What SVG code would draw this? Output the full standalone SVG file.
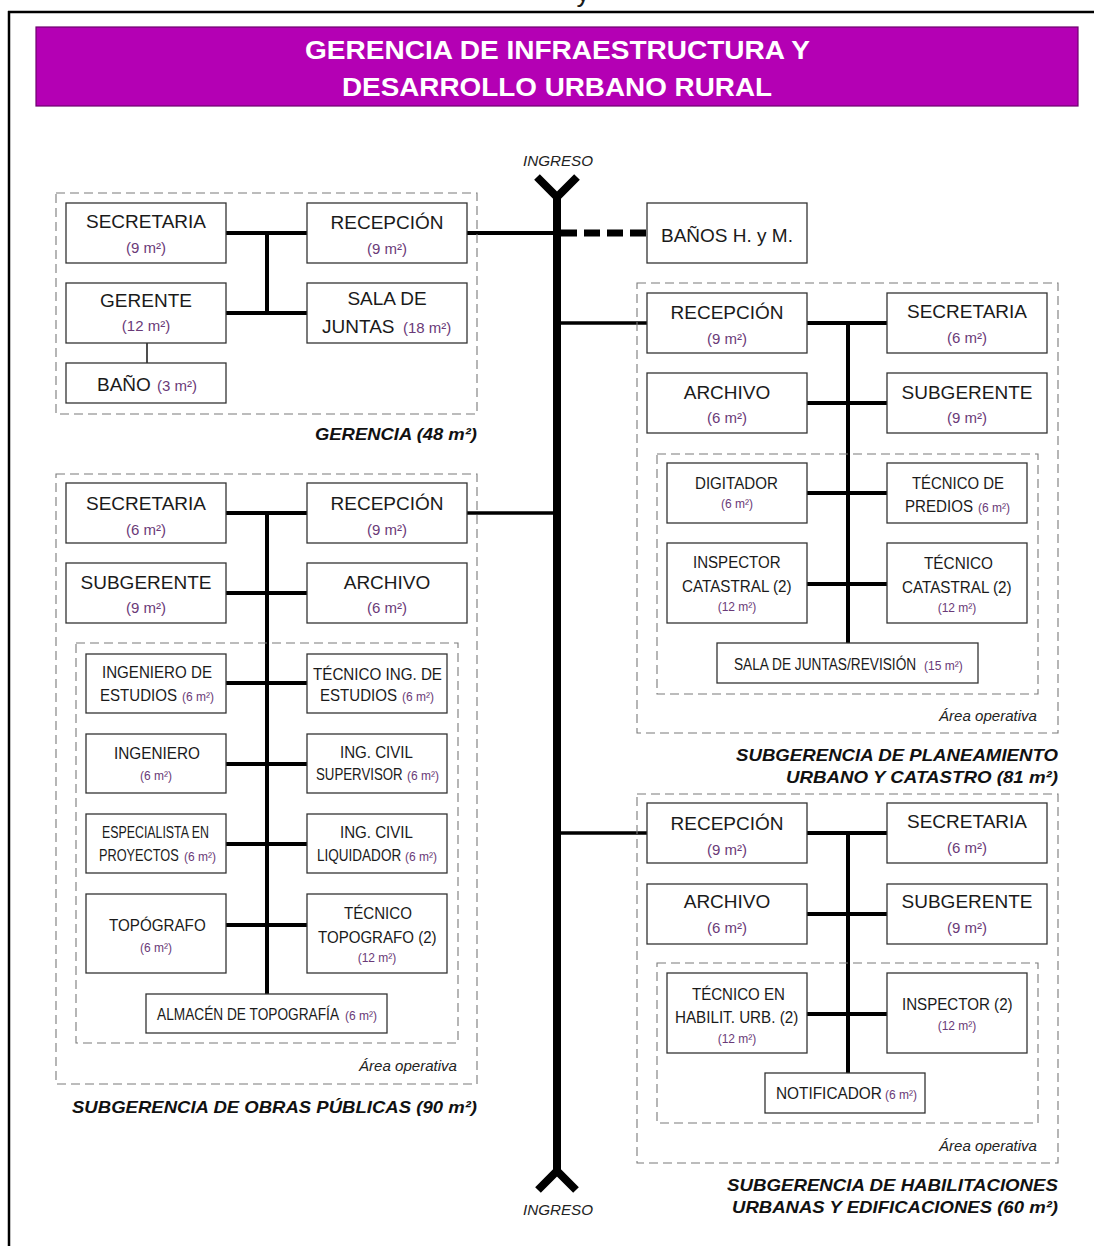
<svg xmlns="http://www.w3.org/2000/svg" width="1094" height="1246" viewBox="0 0 1094 1246">
<style>
text{font-family:"Liberation Sans",Arial,sans-serif;fill:#1a1a1a}
.box{fill:#fff;stroke:#333;stroke-width:1.3}
.dash{fill:none;stroke:#7a7a7a;stroke-width:1.1;stroke-dasharray:9 5}
.L{font-size:19px;text-anchor:middle}
.Ss{font-size:17px}
.A{font-size:15px;fill:#6a3a78;text-anchor:middle}
.As{font-size:15px;fill:#6a3a78}
.a{font-size:12px;fill:#6a3a78;text-anchor:middle}
.as{font-size:12px;fill:#6a3a78}
.ttl{font-size:17px;font-weight:bold;font-style:italic;fill:#111}
.op{font-size:15px;font-style:italic;fill:#222}
.cn{stroke:#000;stroke-width:4;fill:none}
.cm{stroke:#000;stroke-width:3.5;fill:none}
</style>
<g id="frame">
<line x1="8" y1="12" x2="1094" y2="12" stroke="#000" stroke-width="2.5"/>
<line x1="9" y1="11" x2="9" y2="1246" stroke="#000" stroke-width="2.5"/>
<text x="583" y="2" style="font-size:26px" text-anchor="middle">y</text>
</g>
<g id="header">
<rect x="36" y="27" width="1042" height="79" fill="#b400b4" stroke="#6e006e" stroke-width="1.2"/>
<text x="305" y="59" style="font-size:26px;font-weight:bold;fill:#fff" textLength="505" lengthAdjust="spacingAndGlyphs">GERENCIA DE INFRAESTRUCTURA Y</text>
<text x="342" y="96" style="font-size:26px;font-weight:bold;fill:#fff" textLength="430" lengthAdjust="spacingAndGlyphs">DESARROLLO URBANO RURAL</text>
</g>
<g id="ingreso-top">
<text x="523" y="166" class="op" textLength="70" lengthAdjust="spacingAndGlyphs">INGRESO</text>
</g>
<g id="ingreso-bottom">
<text x="523" y="1215" class="op" textLength="70" lengthAdjust="spacingAndGlyphs">INGRESO</text>
</g>
<g id="connectors">
<line x1="557" y1="194" x2="557" y2="1173" stroke="#000" stroke-width="8"/>
<polyline points="537,177 557,197 577,177" stroke="#000" stroke-width="8" fill="none"/>
<polyline points="538,1190 557,1171 576,1190" stroke="#000" stroke-width="8" fill="none"/>
<line x1="561" y1="233" x2="647" y2="233" stroke="#000" stroke-width="7" stroke-dasharray="16 7"/>
<line class="cn" x1="467" y1="233" x2="557" y2="233"/>
<line class="cn" x1="226" y1="233" x2="307" y2="233"/>
<line class="cn" x1="226" y1="313" x2="307" y2="313"/>
<line class="cn" x1="267" y1="233" x2="267" y2="313"/>
<line x1="147" y1="343" x2="147" y2="363" stroke="#222" stroke-width="1.6"/>
<line class="cm" x1="557" y1="323" x2="647" y2="323"/>
<line class="cn" x1="807" y1="323" x2="887" y2="323"/>
<line class="cn" x1="807" y1="403" x2="887" y2="403"/>
<line class="cn" x1="848" y1="323" x2="848" y2="643"/>
<line class="cn" x1="807" y1="493" x2="887" y2="493"/>
<line class="cn" x1="807" y1="584" x2="887" y2="584"/>
<line class="cm" x1="467" y1="513" x2="557" y2="513"/>
<line class="cn" x1="226" y1="513" x2="307" y2="513"/>
<line class="cn" x1="226" y1="593" x2="307" y2="593"/>
<line class="cn" x1="267" y1="513" x2="267" y2="994"/>
<line class="cn" x1="226" y1="683" x2="307" y2="683"/>
<line class="cn" x1="226" y1="764" x2="307" y2="764"/>
<line class="cn" x1="226" y1="844" x2="307" y2="844"/>
<line class="cn" x1="226" y1="925" x2="307" y2="925"/>
<line class="cm" x1="557" y1="833" x2="647" y2="833"/>
<line class="cn" x1="807" y1="833" x2="887" y2="833"/>
<line class="cn" x1="807" y1="914" x2="887" y2="914"/>
<line class="cn" x1="848" y1="833" x2="848" y2="1073"/>
<line class="cn" x1="807" y1="1014" x2="887" y2="1014"/>
</g>
<g id="gerencia">
<rect class="dash" x="56" y="193" width="421" height="221"/>
<text class="ttl" x="315" y="440" textLength="162" lengthAdjust="spacingAndGlyphs">GERENCIA (48 m²)</text>
</g>
<g id="g-secretaria"><rect class="box" x="66" y="203" width="160" height="60"/><text class="L" x="146" y="228">SECRETARIA</text><text class="A" x="146" y="253">(9 m²)</text></g>
<g id="g-recepcion"><rect class="box" x="307" y="203" width="160" height="60"/><text class="L" x="387" y="229">RECEPCIÓN</text><text class="A" x="387" y="254">(9 m²)</text></g>
<g id="g-gerente"><rect class="box" x="66" y="283" width="160" height="60"/><text class="L" x="146" y="307">GERENTE</text><text class="A" x="146" y="331">(12 m²)</text></g>
<g id="g-sala"><rect class="box" x="307" y="283" width="160" height="60"/><text class="L" x="387" y="305">SALA DE</text><text style="font-size:19px" x="322" y="333">JUNTAS</text><text class="As" x="403" y="333">(18 m²)</text></g>
<g id="g-bano"><rect class="box" x="66" y="363" width="160" height="40"/><text style="font-size:19px" x="97" y="391">BAÑO</text><text class="As" x="157" y="391">(3 m²)</text></g>
<g id="banos"><rect class="box" x="647" y="203" width="160" height="60"/><text class="L" x="727" y="242">BAÑOS H. y M.</text></g>
<g id="planeamiento">
<rect class="dash" x="637" y="283" width="421" height="450"/>
<rect class="dash" x="657" y="454" width="381" height="240"/>
<text class="op" x="939" y="721" textLength="98" lengthAdjust="spacingAndGlyphs">Área operativa</text>
<text class="ttl" x="736" y="761" textLength="322" lengthAdjust="spacingAndGlyphs">SUBGERENCIA DE PLANEAMIENTO</text>
<text class="ttl" x="786" y="783" textLength="272" lengthAdjust="spacingAndGlyphs">URBANO Y CATASTRO (81 m²)</text>
</g>
<g id="p-recepcion"><rect class="box" x="647" y="293" width="160" height="60"/><text class="L" x="727" y="319">RECEPCIÓN</text><text class="A" x="727" y="344">(9 m²)</text></g>
<g id="p-secretaria"><rect class="box" x="887" y="293" width="160" height="60"/><text class="L" x="967" y="318">SECRETARIA</text><text class="A" x="967" y="343">(6 m²)</text></g>
<g id="p-archivo"><rect class="box" x="647" y="373" width="160" height="60"/><text class="L" x="727" y="399">ARCHIVO</text><text class="A" x="727" y="423">(6 m²)</text></g>
<g id="p-subgerente"><rect class="box" x="887" y="373" width="160" height="60"/><text class="L" x="967" y="399">SUBGERENTE</text><text class="A" x="967" y="423">(9 m²)</text></g>
<g id="p-digitador"><rect class="box" x="667" y="463" width="140" height="60"/><text class="Ss" transform="translate(695,489) scale(0.889,1)">DIGITADOR</text><text class="a" x="737" y="508">(6 m²)</text></g>
<g id="p-predios"><rect class="box" x="887" y="463" width="140" height="60"/><text class="Ss" transform="translate(912,489) scale(0.878,1)">TÉCNICO DE</text><text class="Ss" transform="translate(905,512) scale(0.889,1)">PREDIOS</text><text class="as" x="978" y="512">(6 m²)</text></g>
<g id="p-inspector"><rect class="box" x="667" y="543" width="140" height="80"/><text class="Ss" transform="translate(693,568) scale(0.887,1)">INSPECTOR</text><text class="Ss" transform="translate(682,592) scale(0.896,1)">CATASTRAL (2)</text><text class="a" x="737" y="611">(12 m²)</text></g>
<g id="p-tecnico"><rect class="box" x="887" y="543" width="140" height="80"/><text class="Ss" transform="translate(924,569) scale(0.902,1)">TÉCNICO</text><text class="Ss" transform="translate(902,593) scale(0.896,1)">CATASTRAL (2)</text><text class="a" x="957" y="612">(12 m²)</text></g>
<g id="p-sala"><rect class="box" x="717" y="643" width="261" height="40"/><text class="Ss" transform="translate(734,670) scale(0.805,1)">SALA DE JUNTAS/REVISIÓN</text><text class="as" x="924" y="670">(15 m²)</text></g>
<g id="obras">
<rect class="dash" x="56" y="474" width="421" height="610"/>
<rect class="dash" x="76" y="643" width="382" height="400"/>
<text class="op" x="359" y="1071" textLength="98" lengthAdjust="spacingAndGlyphs">Área operativa</text>
<text class="ttl" x="72" y="1113" textLength="405" lengthAdjust="spacingAndGlyphs">SUBGERENCIA DE OBRAS PÚBLICAS (90 m²)</text>
</g>
<g id="o-secretaria"><rect class="box" x="66" y="483" width="160" height="60"/><text class="L" x="146" y="510">SECRETARIA</text><text class="A" x="146" y="535">(6 m²)</text></g>
<g id="o-recepcion"><rect class="box" x="307" y="483" width="160" height="60"/><text class="L" x="387" y="510">RECEPCIÓN</text><text class="A" x="387" y="535">(9 m²)</text></g>
<g id="o-subgerente"><rect class="box" x="66" y="563" width="160" height="60"/><text class="L" x="146" y="589">SUBGERENTE</text><text class="A" x="146" y="613">(9 m²)</text></g>
<g id="o-archivo"><rect class="box" x="307" y="563" width="160" height="60"/><text class="L" x="387" y="589">ARCHIVO</text><text class="A" x="387" y="613">(6 m²)</text></g>
<g id="o-ing-estudios"><rect class="box" x="86" y="654" width="140" height="59"/><text class="Ss" transform="translate(102,678) scale(0.889,1)">INGENIERO DE</text><text class="Ss" transform="translate(100,701) scale(0.886,1)">ESTUDIOS</text><text class="as" x="182" y="701">(6 m²)</text></g>
<g id="o-tec-estudios"><rect class="box" x="307" y="654" width="140" height="59"/><text class="Ss" transform="translate(313,680) scale(0.893,1)">TÉCNICO ING. DE</text><text class="Ss" transform="translate(320,701) scale(0.886,1)">ESTUDIOS</text><text class="as" x="402" y="701">(6 m²)</text></g>
<g id="o-ingeniero"><rect class="box" x="86" y="734" width="140" height="59"/><text class="Ss" transform="translate(114,759) scale(0.901,1)">INGENIERO</text><text class="a" x="156" y="780">(6 m²)</text></g>
<g id="o-supervisor"><rect class="box" x="307" y="734" width="140" height="59"/><text class="Ss" transform="translate(340,758) scale(0.888,1)">ING. CIVIL</text><text class="Ss" transform="translate(316,780) scale(0.78,1)">SUPERVISOR</text><text class="as" x="407" y="780">(6 m²)</text></g>
<g id="o-especialista"><rect class="box" x="86" y="814" width="140" height="59"/><text class="Ss" transform="translate(102,838) scale(0.727,1)">ESPECIALISTA EN</text><text class="Ss" transform="translate(99,861) scale(0.75,1)">PROYECTOS</text><text class="as" x="184" y="861">(6 m²)</text></g>
<g id="o-liquidador"><rect class="box" x="307" y="814" width="140" height="59"/><text class="Ss" transform="translate(340,838) scale(0.888,1)">ING. CIVIL</text><text class="Ss" transform="translate(317,861) scale(0.796,1)">LIQUIDADOR</text><text class="as" x="405" y="861">(6 m²)</text></g>
<g id="o-topografo"><rect class="box" x="86" y="894" width="140" height="79"/><text class="Ss" transform="translate(109,931) scale(0.893,1)">TOPÓGRAFO</text><text class="a" x="156" y="952">(6 m²)</text></g>
<g id="o-tec-topografo"><rect class="box" x="307" y="894" width="140" height="79"/><text class="Ss" transform="translate(344,919) scale(0.889,1)">TÉCNICO</text><text class="Ss" transform="translate(318,943) scale(0.887,1)">TOPOGRAFO (2)</text><text class="a" x="377" y="962">(12 m²)</text></g>
<g id="o-almacen"><rect class="box" x="146" y="994" width="241" height="39"/><text class="Ss" transform="translate(157,1020) scale(0.806,1)">ALMACÉN DE TOPOGRAFÍA</text><text class="as" x="345" y="1020">(6 m²)</text></g>
<g id="habilitaciones">
<rect class="dash" x="637" y="794" width="421" height="369"/>
<rect class="dash" x="657" y="963" width="381" height="160"/>
<text class="op" x="939" y="1151" textLength="98" lengthAdjust="spacingAndGlyphs">Área operativa</text>
<text class="ttl" x="727" y="1191" textLength="331" lengthAdjust="spacingAndGlyphs">SUBGERENCIA DE HABILITACIONES</text>
<text class="ttl" x="732" y="1213" textLength="326" lengthAdjust="spacingAndGlyphs">URBANAS Y EDIFICACIONES (60 m²)</text>
</g>
<g id="h-recepcion"><rect class="box" x="647" y="803" width="160" height="60"/><text class="L" x="727" y="830">RECEPCIÓN</text><text class="A" x="727" y="855">(9 m²)</text></g>
<g id="h-secretaria"><rect class="box" x="887" y="803" width="160" height="60"/><text class="L" x="967" y="828">SECRETARIA</text><text class="A" x="967" y="853">(6 m²)</text></g>
<g id="h-archivo"><rect class="box" x="647" y="884" width="160" height="60"/><text class="L" x="727" y="908">ARCHIVO</text><text class="A" x="727" y="933">(6 m²)</text></g>
<g id="h-subgerente"><rect class="box" x="887" y="884" width="160" height="60"/><text class="L" x="967" y="908">SUBGERENTE</text><text class="A" x="967" y="933">(9 m²)</text></g>
<g id="h-tecnico"><rect class="box" x="667" y="973" width="140" height="80"/><text class="Ss" transform="translate(692,1000) scale(0.887,1)">TÉCNICO EN</text><text class="Ss" transform="translate(675,1023) scale(0.894,1)">HABILIT. URB. (2)</text><text class="a" x="737" y="1043">(12 m²)</text></g>
<g id="h-inspector"><rect class="box" x="887" y="973" width="140" height="80"/><text class="Ss" transform="translate(902,1010) scale(0.89,1)">INSPECTOR (2)</text><text class="a" x="957" y="1030">(12 m²)</text></g>
<g id="h-notificador"><rect class="box" x="765" y="1073" width="160" height="40"/><text class="Ss" transform="translate(776,1099) scale(0.905,1)">NOTIFICADOR</text><text class="as" x="885" y="1099">(6 m²)</text></g>
</svg>
